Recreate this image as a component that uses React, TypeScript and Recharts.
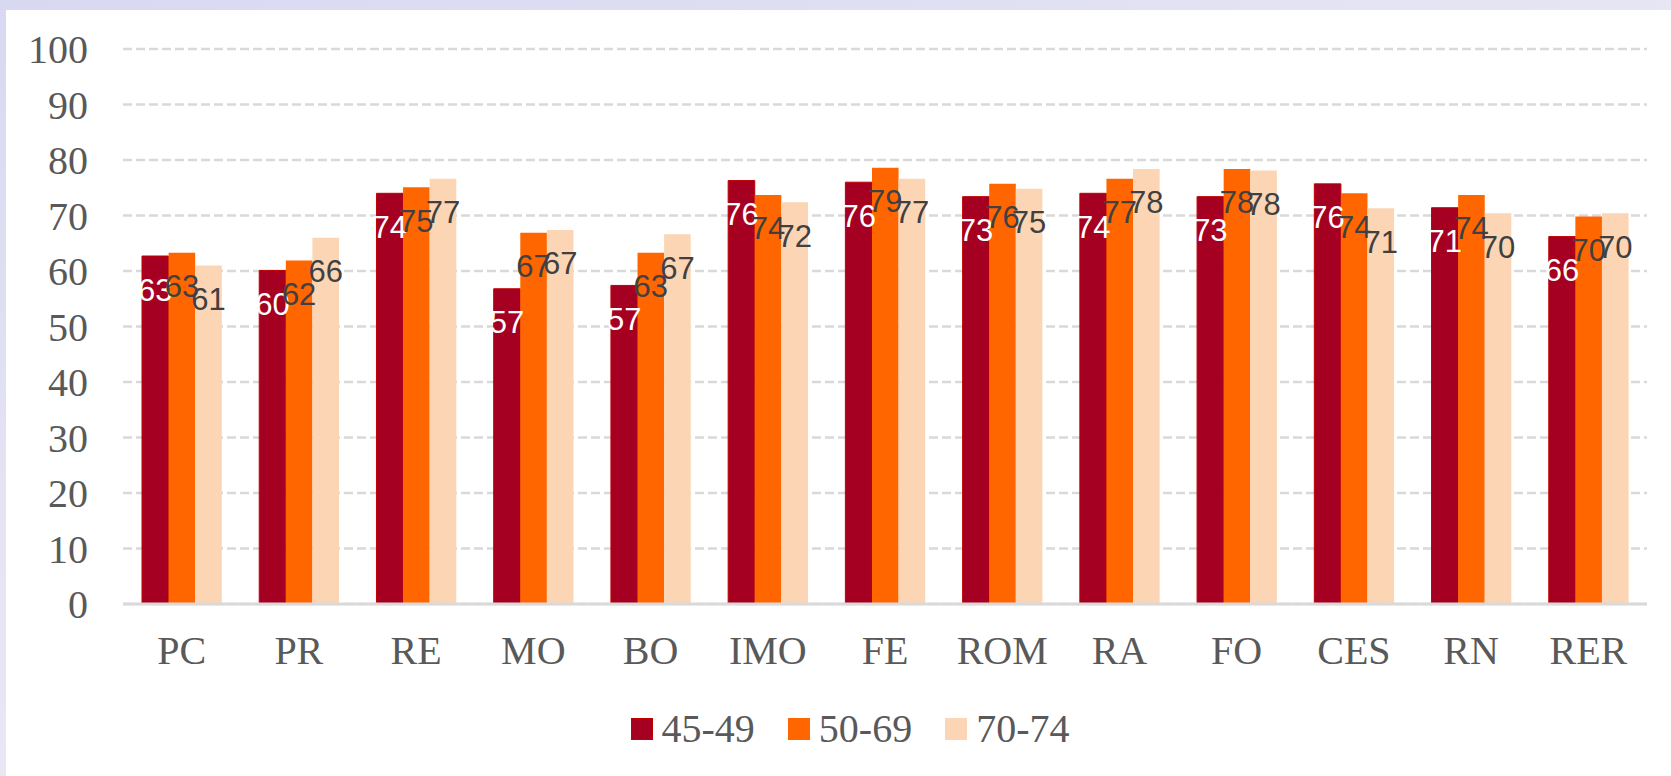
import React from 'react';
import { BarChart, Bar, XAxis, YAxis, CartesianGrid, Legend, LabelList } from 'recharts';

const categories = ['PC', 'PR', 'RE', 'MO', 'BO', 'IMO', 'FE', 'ROM', 'RA', 'FO', 'CES', 'RN', 'RER'];
const age4549 = [62.7, 60.1, 74.0, 56.8, 57.4, 76.3, 76.0, 73.4, 74.0, 73.4, 75.7, 71.4, 66.2];
const age5069 = [63.3, 61.9, 75.1, 66.9, 63.3, 73.7, 78.6, 75.7, 76.6, 78.4, 74.0, 73.7, 69.8];
const age7074 = [61.0, 66.0, 76.6, 67.4, 66.6, 72.4, 76.6, 74.8, 78.4, 78.1, 71.3, 70.4, 70.4];
const seriesNames = ['45-49', '50-69', '70-74'];
const seriesColors = ['#a50021', '#ff6600', '#fcd5b4'];
const labelColors = ['#ffffff', '#404040', '#404040'];
const yTicks = [0, 10, 20, 30, 40, 50, 60, 70, 80, 90, 100];

const data = categories.map((c, i) => ({
  name: c,
  s0: age4549[i],
  s1: age5069[i],
  s2: age7074[i],
}));

const SERIF = "'Liberation Serif', 'Times New Roman', serif";
const SANS = "'Liberation Sans', Arial, sans-serif";

const makeLabel = (color: string) => (props: any) => {
  const { x, y, width, value } = props;
  return (
    <text
      x={Number(x) + Number(width) / 2}
      y={Number(y) + 34}
      textAnchor="middle"
      dominantBaseline="central"
      fill={color}
      fontFamily={SANS}
      fontSize={31}
    >
      {Math.round(Number(value))}
    </text>
  );
};

const renderLegend = () => (
  <div
    style={{
      display: 'flex',
      justifyContent: 'center',
      alignItems: 'center',
      height: 40,
      fontFamily: SERIF,
      fontSize: 40,
      lineHeight: '40px',
      color: '#595959',
    }}
  >
    {seriesNames.map((n, i) => (
      <div key={n} style={{ display: 'flex', alignItems: 'center', marginLeft: i === 0 ? 0 : 33 }}>
        <div
          style={{
            width: 22,
            height: 22,
            background: seriesColors[i],
            border: i === 0 ? '1px solid #c00000' : 'none',
            boxSizing: 'border-box',
            marginRight: 9,
          }}
        />
        <span style={{ fontFamily: SERIF, fontSize: 40, color: '#595959' }}>{n}</span>
      </div>
    ))}
  </div>
);

export default function App() {
  return (
    <div
      style={{
        position: 'absolute',
        top: 0,
        left: 0,
        width: 1671,
        height: 776,
        overflow: 'hidden',
        fontFamily: SERIF,
        background: 'linear-gradient(160deg, #d8d8f2 0%, #e6e6f4 45%, #f0f0f4 100%)',
      }}
    >
      <div
        style={{
          position: 'absolute',
          left: 6,
          top: 10,
          right: 0,
          bottom: 0,
          background: '#ffffff',
        }}
      />
      <div style={{ position: 'absolute', left: 0, top: 0 }}>
        <BarChart
          width={1671}
          height={776}
          data={data}
          margin={{ top: 49, right: 24, left: 0, bottom: 32 }}
          barGap={0}
          barSize={26.6}
        >
          <CartesianGrid
            vertical={false}
            stroke="#d9d9d9"
            strokeWidth={2.5}
            strokeDasharray="9 4"
          />
          <XAxis
            dataKey="name"
            height={100}
            axisLine={{ stroke: '#d9d9d9', strokeWidth: 3 }}
            tickLine={false}
            tickMargin={26}
            tick={{ fill: '#595959', fontFamily: SERIF, fontSize: 40 }}
            interval={0}
          />
          <YAxis
            width={123}
            domain={[0, 100]}
            ticks={yTicks}
            axisLine={false}
            tickLine={false}
            tickMargin={29}
            tick={{ fill: '#595959', fontFamily: SERIF, fontSize: 40 }}
            interval={0}
          />
          <Legend
            verticalAlign="bottom"
            content={renderLegend}
            wrapperStyle={{ left: 0, width: 1700, bottom: 27, height: 40, fontFamily: SERIF }}
          />
          <Bar dataKey="s0" name={seriesNames[0]} fill={seriesColors[0]} stroke="#c00000" strokeWidth={1} isAnimationActive={false}>
            <LabelList dataKey="s0" content={makeLabel(labelColors[0])} />
          </Bar>
          <Bar dataKey="s1" name={seriesNames[1]} fill={seriesColors[1]} isAnimationActive={false}>
            <LabelList dataKey="s1" content={makeLabel(labelColors[1])} />
          </Bar>
          <Bar dataKey="s2" name={seriesNames[2]} fill={seriesColors[2]} isAnimationActive={false}>
            <LabelList dataKey="s2" content={makeLabel(labelColors[2])} />
          </Bar>
        </BarChart>
      </div>
    </div>
  );
}
